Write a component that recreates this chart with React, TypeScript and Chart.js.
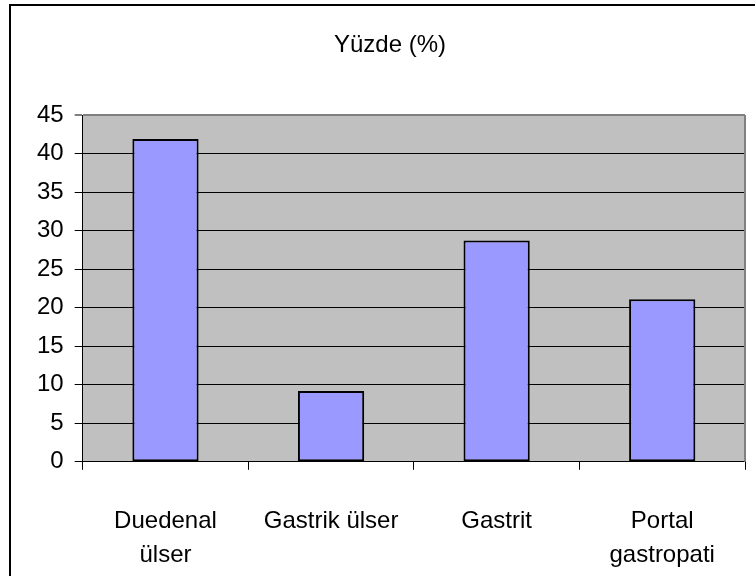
import React, { useEffect, useRef } from "react";
import { Chart, registerables } from "chart.js";

Chart.register(...registerables);

const categories: string[][] = [["Duedenal", "ülser"], ["Gastrik ülser"], ["Gastrit"], ["Portal", "gastropati"]];
const values: number[] = [41.9, 9.2, 28.7, 21.1];
const yMin = 0;
const yMax = 45;
const yStep = 5;
const titleText = "Yüzde (%)";

const FONT = "'Liberation Sans', Arial, sans-serif";

const framePlugin = {
  id: "framePlugin",
  beforeDraw(chart: any) {
    const { ctx, chartArea, width, height } = chart;
    ctx.save();
    ctx.fillStyle = "#ffffff";
    ctx.fillRect(0, 0, width, height);
    ctx.fillStyle = "#C0C0C0";
    ctx.fillRect(chartArea.left, chartArea.top, chartArea.right - chartArea.left, chartArea.bottom - chartArea.top);
    ctx.strokeStyle = "#000000";
    ctx.lineWidth = 2;
    ctx.strokeRect(10, 5, width + 20, height + 20);
    ctx.fillStyle = "#000000";
    ctx.font = "24px " + FONT;
    ctx.textAlign = "center";
    ctx.textBaseline = "middle";
    ctx.fillText(titleText, 390, 45);
    ctx.restore();
  },
  afterDraw(chart: any) {
    const { ctx, chartArea } = chart;
    ctx.save();
    ctx.strokeStyle = "#808080";
    ctx.lineWidth = 2;
    ctx.beginPath();
    ctx.moveTo(chartArea.right, chartArea.top);
    ctx.lineTo(chartArea.right, chartArea.bottom);
    ctx.stroke();
    ctx.restore();
  },
};

export default function App() {
  const ref = useRef<HTMLCanvasElement | null>(null);
  useEffect(() => {
    document.body.style.margin = "0";
    const canvas = ref.current;
    if (!canvas) return;
    const chart = new Chart(canvas, {
      type: "bar",
      data: {
        labels: categories,
        datasets: [
          {
            data: values,
            backgroundColor: "#9999FF",
            borderColor: "#000000",
            borderWidth: 2,
            borderSkipped: false,
            barPercentage: 0.4,
            categoryPercentage: 1,
          },
        ],
      },
      options: {
        responsive: false,
        animation: false,
        layout: { padding: { top: 115, right: 10, bottom: -31, left: 26 } },
        plugins: {
          legend: { display: false },
          title: { display: false },
          tooltip: { enabled: false },
        },
        scales: {
          x: {
            offset: true,
            grid: {
              offset: true,
              drawOnChartArea: false,
              tickLength: 8,
              tickColor: "#000000",
              tickWidth: 1,
            },
            border: { color: "#000000", width: 1 },
            ticks: {
              color: "#000000",
              font: { family: FONT, size: 24, lineHeight: 1.4 },
              padding: 35,
              autoSkip: false,
              maxRotation: 0,
              minRotation: 0,
            },
          },
          y: {
            min: yMin,
            max: yMax,
            grid: {
              color: (c: any) => (c.tick && c.tick.value === yMax ? "#808080" : "#000000"),
              lineWidth: (c: any) => (c.tick && c.tick.value === yMax ? 2 : 1),
              tickLength: 8,
              tickColor: "#000000",
              tickWidth: 1,
            },
            border: { color: "#000000", width: 1 },
            ticks: {
              stepSize: yStep,
              color: "#000000",
              font: { family: FONT, size: 24 },
              padding: 11,
            },
          },
        },
      },
      plugins: [framePlugin],
    });
    return () => chart.destroy();
  }, []);
  return <canvas ref={ref} width={755} height={576} style={{ display: "block" }} />;
}
